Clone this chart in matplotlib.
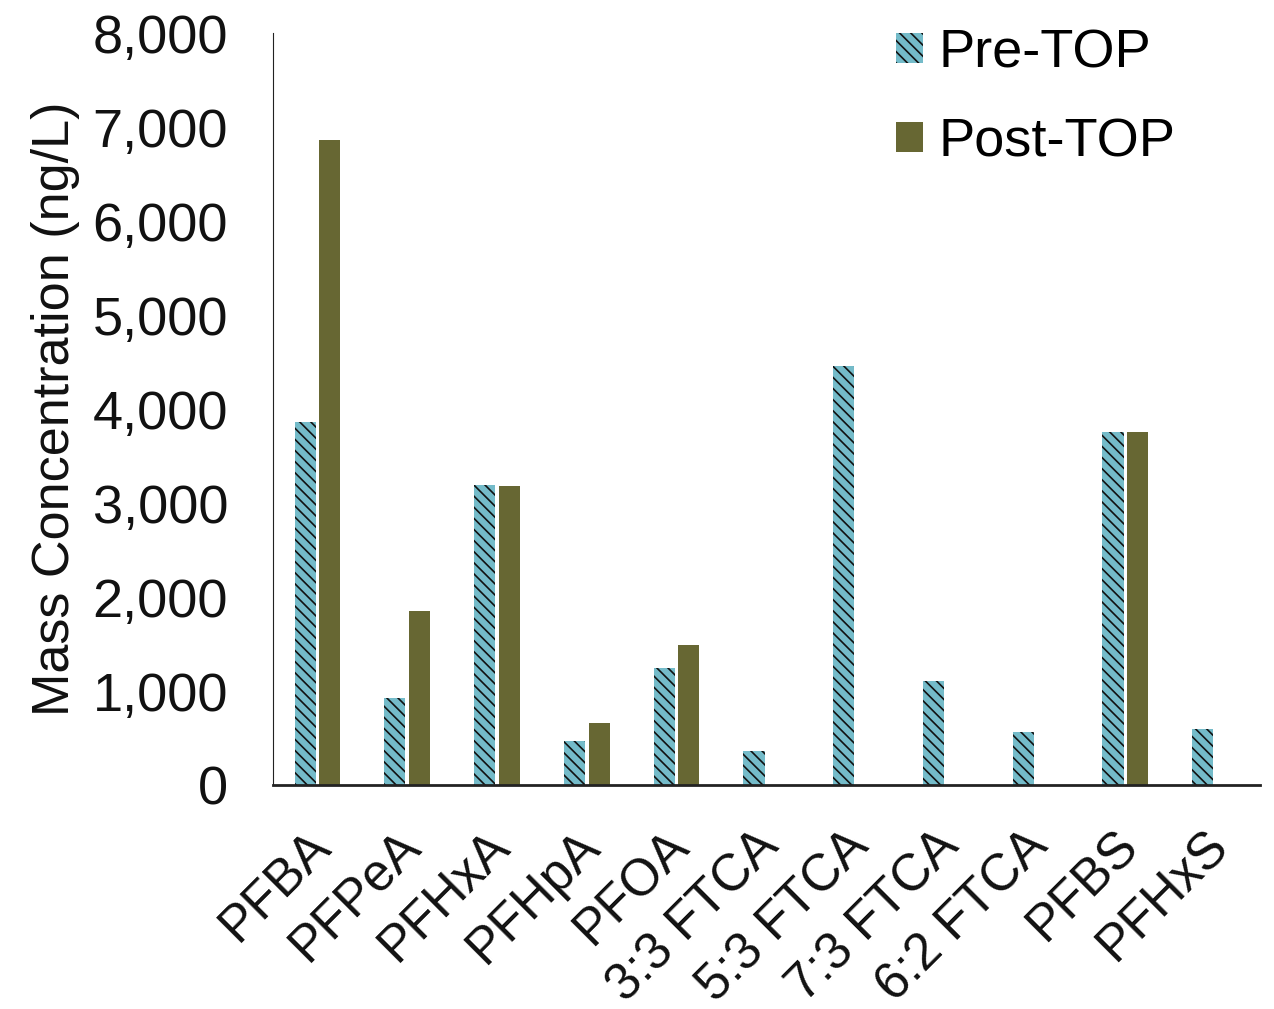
import numpy as np
import matplotlib.pyplot as plt
from matplotlib.transforms import ScaledTranslation

plt.rcParams['font.family'] = ['Liberation Sans', 'DejaVu Sans']
plt.rcParams['hatch.linewidth'] = 1.2
plt.rcParams['hatch.color'] = '#111111'

categories = ['PFBA', 'PFPeA', 'PFHxA', 'PFHpA', 'PFOA', '3:3 FTCA', '5:3 FTCA',
              '7:3 FTCA', '6:2 FTCA', 'PFBS', 'PFHxS']
pre_top = [3860, 925, 3190, 470, 1245, 360, 4460, 1105, 565, 3755, 595]
post_top = [6860, 1850, 3180, 660, 1490, 0, 0, 0, 0, 3755, 0]

fig = plt.figure(figsize=(12.74, 10.09), dpi=100)
ax = fig.add_axes([0.214, 0.222, 0.775, 0.745])

x = np.arange(len(categories))
w = 0.235
ax.bar(x - w / 2 - 0.02, pre_top, w, color='#74BBC9', hatch='\\\\\\',
       edgecolor='#111111', linewidth=0, label='Pre-TOP')
ax.bar(x + w / 2 + 0.02, post_top, w, color='#676733', linewidth=0,
       label='Post-TOP')

ax.set_xlim(-0.5, len(categories) - 0.5)
ax.set_ylim(0, 8000)
ax.set_yticks(range(0, 8001, 1000))
ax.yaxis.set_major_formatter(plt.FuncFormatter(lambda v, p: f'{int(v):,}'))
ax.set_xticks(x)
ax.set_xticklabels(categories, rotation=45, ha='right', rotation_mode='anchor')
ax.tick_params(axis='y', labelsize=39, length=0, pad=32, colors='#111111')
ax.tick_params(axis='x', labelsize=37, length=0, pad=26, colors='#111111')
shift = ScaledTranslation(-12 / 100, 0, fig.dpi_scale_trans)
for lab in ax.get_xticklabels():
    lab.set_transform(lab.get_transform() + shift)
ax.set_ylabel('Mass Concentration (ng/L)', fontsize=37.5, color='#111111')
ax.yaxis.set_label_coords(-0.195, 0.5)

for s in ['top', 'right']:
    ax.spines[s].set_visible(False)
ax.spines['left'].set_color('#222222')
ax.spines['bottom'].set_color('#222222')
ax.spines['bottom'].set_linewidth(2)

ax.legend(loc='upper left', bbox_to_anchor=(896 / 1274, 0.972),
          bbox_transform=fig.transFigure, frameon=False, fontsize=39,
          borderpad=0, borderaxespad=0,
          handlelength=0.5, handleheight=0.5, labelspacing=0.72, handletextpad=0.28)

fig.savefig('out.png', dpi=100)
